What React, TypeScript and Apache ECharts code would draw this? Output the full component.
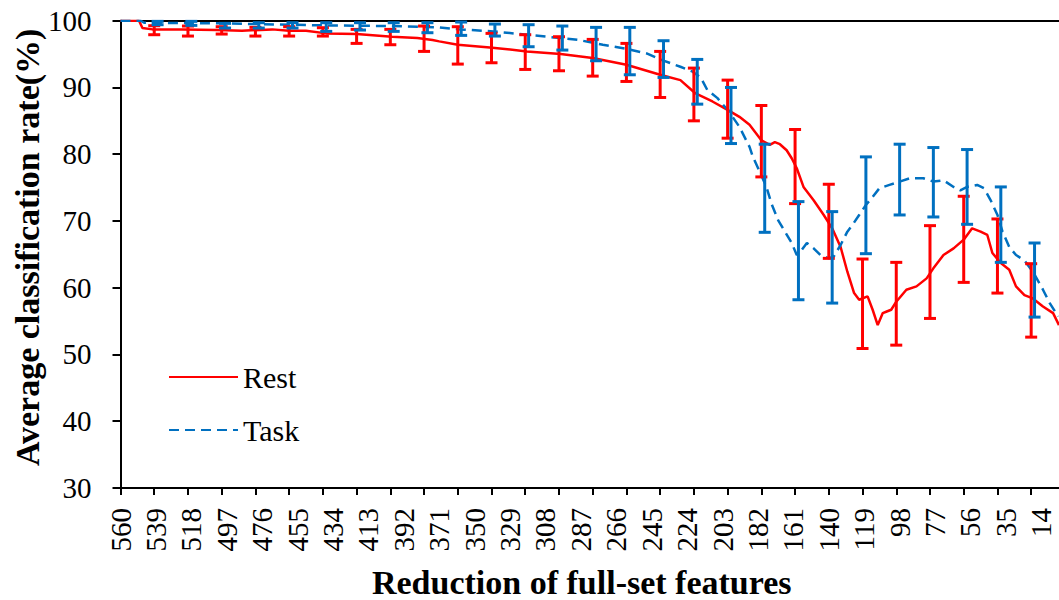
import React, { useEffect, useRef } from "react";
import * as echarts from "echarts";

const FONT = "Liberation Serif";

// Axis ticks (every 20 features) and labels (every 21 features)
const X_TICKS = [560, 540, 520, 500, 480, 460, 440, 420, 400, 380, 360, 340, 320, 300, 280, 260, 240, 220, 200, 180, 160, 140, 120, 100, 80, 60, 40, 20];
const X_LABELS = [560, 539, 518, 497, 476, 455, 434, 413, 392, 371, 350, 329, 308, 287, 266, 245, 224, 203, 182, 161, 140, 119, 98, 77, 56, 35, 14];

// Rest (red solid) curve
const REST_X = [560, 549, 547, 541, 523, 503, 488, 470, 460, 450, 438, 420, 399, 384, 375, 371, 360, 341, 319, 299, 280, 260, 240, 228, 219, 209, 199, 193, 187, 180, 175, 172, 169, 165, 162, 159, 155, 149, 143, 138, 133, 129, 125, 122, 117, 114, 111, 108, 106, 103, 100, 94, 88, 82, 78, 72, 66, 60, 55, 50, 46, 43, 38, 33, 29, 24, 19, 13, 7, 3.5];
const REST_Y = [100, 100, 98.9, 98.7, 98.7, 98.6, 98.5, 98.7, 98.5, 98.5, 98.1, 98.0, 97.6, 97.4, 97.1, 96.9, 96.4, 96.0, 95.4, 95.0, 94.4, 93.4, 91.9, 91.1, 89.1, 87.9, 86.5, 85.6, 84.4, 82.1, 81.4, 81.8, 81.5, 80.6, 79.4, 77.9, 75.1, 73.1, 70.9, 68.9, 66.1, 62.4, 59.2, 58.2, 58.7, 56.7, 54.4, 56.2, 56.4, 56.7, 57.9, 59.7, 60.2, 61.4, 62.9, 64.9, 65.9, 67.2, 68.9, 68.4, 67.9, 65.2, 63.7, 62.7, 60.2, 58.9, 58.4, 57.2, 56.2, 54.4];

// Task (blue dashed) curve
const TASK_X = [560, 548, 546, 500, 440, 400, 371, 359, 339, 319, 299, 288, 274, 260, 248, 240, 228, 221, 216, 212, 206, 199, 193, 187, 185, 181, 177, 174, 170, 166, 162, 159, 156, 153, 149, 145, 140, 137, 133, 129, 126, 122, 118, 114, 110, 104, 98, 92, 84, 78, 72, 66, 62, 58, 52, 48, 44, 40, 37, 33, 29, 24, 19, 13, 9, 4];
const TASK_Y = [100, 100, 99.7, 99.6, 99.3, 99.2, 99.0, 98.7, 98.4, 97.9, 97.4, 97.1, 96.4, 95.8, 95.1, 94.2, 93.1, 92.4, 91.5, 89.6, 88.4, 86.3, 84.1, 81.1, 79.6, 77.4, 75.1, 72.6, 70.1, 68.4, 66.7, 64.9, 65.7, 66.7, 65.9, 64.9, 64.4, 64.7, 66.4, 68.4, 69.4, 70.9, 72.4, 73.6, 74.9, 75.4, 75.9, 76.4, 76.4, 75.9, 76.1, 75.1, 74.6, 75.1, 75.4, 74.9, 73.1, 70.9, 68.4, 66.1, 64.9, 64.1, 62.4, 59.7, 57.7, 55.7];

// Error bars
const REST_ERR_X = [540, 520, 500, 480, 460, 440, 420, 400, 380, 360, 340, 320, 300, 280, 260, 240, 220, 200, 180, 160, 140, 120, 100, 80, 60, 40, 20];
const REST_ERR_HIGH = [99.25, 99.2, 99.1, 99.0, 99.1, 98.95, 98.7, 98.7, 99.2, 99.1, 98.1, 97.9, 97.6, 97.2, 96.6, 95.4, 92.9, 91.1, 87.3, 83.7, 75.5, 64.3, 63.8, 69.3, 73.7, 70.3, 63.6];
const REST_ERR_LOW = [97.9, 97.7, 98.0, 97.7, 97.7, 97.7, 96.6, 96.4, 95.4, 93.5, 93.7, 92.7, 92.5, 91.7, 90.9, 88.5, 85.0, 82.4, 76.6, 72.6, 64.4, 50.9, 51.4, 55.4, 60.8, 59.2, 52.6];

const TASK_ERR_X = [538, 518, 498, 478, 458, 438, 418, 398, 378, 358, 338, 318, 298, 278, 258, 238, 218, 198, 178, 158, 138, 118, 98, 78, 58, 38, 18];
const TASK_ERR_HIGH = [99.9, 99.9, 99.6, 99.7, 99.7, 99.7, 99.7, 99.7, 99.7, 99.8, 99.5, 99.4, 99.2, 99.0, 99.0, 97.0, 94.2, 90.0, 81.5, 72.9, 71.4, 79.6, 81.5, 81.0, 80.7, 75.1, 66.7];
const TASK_ERR_LOW = [99.4, 99.3, 98.9, 98.9, 98.9, 98.4, 98.6, 98.4, 98.2, 97.8, 97.7, 96.1, 95.6, 94.0, 91.9, 91.5, 87.5, 81.6, 68.3, 58.2, 57.7, 65.1, 70.9, 70.6, 69.5, 63.8, 55.6];

const RED = "#FF0000";
const BLUE = "#0070C0";

function errRender(color: string) {
  return (params: any, api: any) => {
    const x = api.value(0);
    const lo = api.value(1);
    const hi = api.value(2);
    const pLo = api.coord([x, lo]);
    const pHi = api.coord([x, hi]);
    const w = 6;
    const style = { stroke: color, lineWidth: 3 };
    return {
      type: "group",
      children: [
        { type: "line", shape: { x1: pLo[0], y1: pLo[1], x2: pHi[0], y2: pHi[1] }, style },
        { type: "line", shape: { x1: pHi[0] - w, y1: pHi[1], x2: pHi[0] + w, y2: pHi[1] }, style },
        { type: "line", shape: { x1: pLo[0] - w, y1: pLo[1], x2: pLo[0] + w, y2: pLo[1] }, style },
      ],
    };
  };
}

export default function App() {
  const ref = useRef<HTMLDivElement>(null);
  useEffect(() => {
    const chart = echarts.init(ref.current!, null, { renderer: "svg" });
    const axisLine = { show: true, lineStyle: { color: "#000", width: 2 } };
    const titleStyle = { fontSize: 34, fontWeight: "bold", fontFamily: FONT, color: "#000" };
    const tickText = { fontSize: 29, fontFamily: FONT, fontWeight: 400, color: "#000" };
    const option: any = {
      animation: false,
      textStyle: { fontFamily: FONT },
      grid: { left: 120.5, top: 20.7, right: 0, bottom: 112, outerBoundsMode: "none", containLabel: false },
      legend: {
        data: ["Rest", "Task"],
        orient: "vertical",
        left: 163,
        top: 357,
        itemWidth: 69,
        itemHeight: 14,
        itemGap: 23,
        itemStyle: { opacity: 0 },
        formatter: "{t|{name}}",
        textStyle: { fontSize: 30, fontFamily: FONT, color: "#000", rich: { t: { fontSize: 30, fontFamily: FONT, fontWeight: 400, color: "#000" } } },
      },
      xAxis: [
        {
          type: "value",
          inverse: true,
          min: 3.5,
          max: 560,
          name: "Reduction of full-set features",
          nameLocation: "middle",
          nameGap: 77,
          nameMoveOverlap: false,
          nameTextStyle: { ...titleStyle, padding: [0, 16, 0, 0] },
          axisLine,
          axisTick: { show: true, customValues: X_TICKS, length: 7, lineStyle: { color: "#000", width: 2 } },
          axisLabel: {
            customValues: X_LABELS,
            rotate: 90,
            margin: 20,
            ...tickText,
            formatter: "{t|{value}}",
            rich: { t: { ...tickText } },
          },
          splitLine: { show: false },
        },
        {
          type: "value",
          position: "top",
          inverse: true,
          min: 3.5,
          max: 560,
          axisLine,
          axisTick: { show: false },
          axisLabel: { show: false },
          splitLine: { show: false },
        },
      ],
      yAxis: {
        type: "value",
        min: 30,
        max: 100,
        interval: 10,
        name: "Average classification rate(%)",
        nameLocation: "middle",
        nameGap: 76.5,
        nameMoveOverlap: false,
        nameTextStyle: { ...titleStyle, padding: [0, 0, 0, 14] },
        axisLine,
        axisTick: { show: true, length: 8, lineStyle: { color: "#000", width: 2 } },
        axisLabel: { margin: 29, ...tickText, formatter: "{t|{value}}", rich: { t: { ...tickText } } },
        splitLine: { show: false },
      },
      series: [
        {
          name: "Rest",
          type: "line",
          data: REST_X.map((x, i) => [x, REST_Y[i]]),
          symbol: "none",
          lineStyle: { color: RED, width: 2.5 },
          itemStyle: { color: RED },
          z: 2,
        },
        {
          name: "Task",
          type: "line",
          data: TASK_X.map((x, i) => [x, TASK_Y[i]]),
          symbol: "none",
          lineStyle: { color: BLUE, width: 2.5, type: [10, 6] },
          itemStyle: { color: BLUE },
          z: 2,
        },
        {
          name: "RestErr",
          type: "custom",
          renderItem: errRender(RED),
          encode: { x: 0, y: [1, 2] },
          data: REST_ERR_X.map((x, i) => [x, REST_ERR_LOW[i], REST_ERR_HIGH[i]]),
          z: 3,
        },
        {
          name: "TaskErr",
          type: "custom",
          renderItem: errRender(BLUE),
          encode: { x: 0, y: [1, 2] },
          data: TASK_ERR_X.map((x, i) => [x, TASK_ERR_LOW[i], TASK_ERR_HIGH[i]]),
          z: 4,
        },
      ],
    };
    chart.setOption(option);
    return () => chart.dispose();
  }, []);
  return <div ref={ref} style={{ position: "fixed", left: 0, top: 0, width: 1059, height: 600, background: "#fff" }} />;
}
